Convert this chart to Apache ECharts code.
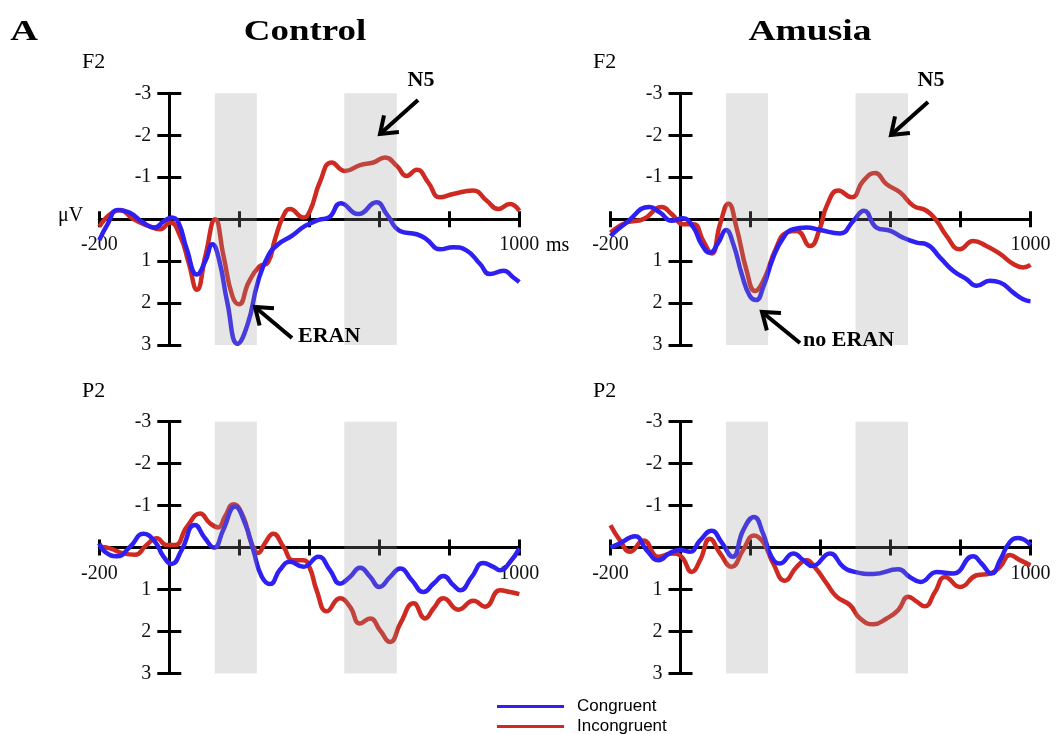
<!DOCTYPE html>
<html><head><meta charset="utf-8">
<script src="https://cdn.jsdelivr.net/npm/echarts@6/dist/echarts.min.js"></script>
<style>html,body{margin:0;padding:0;background:#fff}#c{width:1057px;height:734px}</style>
</head><body><div id="c"></div>
<script>
// ---- data (time in ms, amplitude in µV) ----
const timeRange = [-200, 1000];
const timeStep = 200;
const ampRange = [-3, 3];
const windows = [[130, 250], [500, 650]];
const seriesNames = ['Congruent', 'Incongruent'];
const groupTitles = ['Control', 'Amusia'];
const electrodes = ['F2', 'P2'];

const controlF2Congruent = [[-200,0.5],[-175,0.1],[-148,-0.22],[-114,-0.16],[-75,0.08],[-42,0.2],[-17,0.06],[7,-0.04],[26,0.08],[50,0.72],[79,1.32],[103,1.0],[123,0.6],[142,0.96],[166,2.0],[195,2.97],[224,2.5],[253,1.5],[282,0.88],[311,0.6],[350,0.4],[388,0.16],[427,0.02],[456,-0.04],[490,-0.38],[540,-0.12],[592,-0.4],[621,-0.12],[659,0.28],[707,0.36],[735,0.48],[773,0.72],[811,0.67],[850,0.75],[888,1.07],[916,1.31],[955,1.23],[983,1.39],[1000,1.5]];
const controlF2Incongruent = [[-200,0.18],[-141,-0.22],[-103,0],[-60,0.16],[-27,0.24],[2,0.08],[31,0.4],[55,1.03],[79,1.68],[103,0.88],[131,0.0],[155,0.88],[180,1.83],[199,2.03],[227,1.5],[257,1.13],[282,1.03],[302,0.48],[326,-0.08],[345,-0.24],[383,-0.04],[402,-0.2],[430,-0.88],[464,-1.35],[502,-1.15],[545,-1.29],[583,-1.35],[616,-1.47],[650,-1.27],[678,-1.03],[707,-1.18],[740,-0.87],[773,-0.52],[811,-0.6],[868,-0.68],[907,-0.44],[940,-0.24],[973,-0.36],[1000,-0.2]];
const amusiaF2Congruent = [[-200,0.4],[-154,0.08],[-89,-0.29],[-59,-0.16],[-25,0.04],[6,-0.02],[37,0.2],[60,0.6],[84,0.8],[108,0.56],[130,0.26],[151,0.6],[175,1.31],[198,1.83],[216,1.93],[236,1.63],[265,0.91],[294,0.44],[322,0.24],[360,0.2],[399,0.26],[456,0.34],[494,0.04],[524,-0.2],[560,0.2],[600,0.28],[636,0.44],[675,0.56],[703,0.6],[741,0.91],[779,1.23],[817,1.43],[846,1.59],[884,1.47],[913,1.51],[951,1.75],[979,1.91],[1000,1.96]];
const amusiaF2Incongruent = [[-200,0.32],[-154,0.08],[-106,0],[-54,-0.29],[-25,-0.12],[8,0.12],[37,0.12],[65,0.52],[89,0.82],[113,0.12],[137,-0.37],[160,0.2],[189,1.23],[213,1.71],[241,1.39],[270,0.75],[303,0.32],[332,0.28],[370,0.64],[399,0.2],[418,-0.32],[451,-0.68],[489,-0.52],[522,-0.91],[556,-1.1],[589,-0.83],[627,-0.64],[665,-0.32],[703,-0.2],[732,0.04],[760,0.4],[798,0.72],[836,0.52],[874,0.64],[913,0.83],[951,1.07],[979,1.15],[1000,1.09]];
const controlP2Congruent = [[-200,-0.1],[-184,0.1],[-150,0.21],[-112,-0.02],[-74,-0.33],[-41,-0.14],[-17,0.21],[7,0.39],[35,0.06],[73,-0.54],[102,-0.22],[128,0],[154,-0.42],[188,-0.98],[216,-0.58],[240,0.06],[264,0.69],[288,0.87],[316,0.53],[345,0.34],[383,0.46],[426,0.22],[459,0.54],[488,0.86],[516,0.7],[545,0.48],[574,0.7],[600,0.94],[631,0.7],[660,0.5],[693,0.78],[726,1.06],[755,0.86],[783,0.68],[812,0.9],[831,1.02],[864,0.7],[897,0.37],[926,0.46],[945,0.54],[974,0.34],[1000,0.02]];
const controlP2Incongruent = [[-200,-0.02],[-169,0.02],[-131,0.14],[-98,0.17],[-65,-0.06],[-36,-0.22],[-8,-0.06],[16,-0.06],[50,-0.49],[88,-0.81],[116,-0.58],[140,-0.48],[159,-0.74],[183,-1.03],[211,-0.74],[235,-0.1],[254,0.13],[273,-0.1],[297,-0.33],[326,-0.02],[354,0.3],[383,0.3],[402,0.5],[421,1.02],[450,1.52],[488,1.21],[516,1.41],[545,1.81],[574,1.69],[602,1.97],[631,2.25],[660,1.81],[698,1.33],[731,1.69],[755,1.45],[783,1.21],[826,1.48],[869,1.27],[902,1.41],[945,1.02],[974,1.06],[1000,1.11]];
const amusiaP2Congruent = [[-200,0],[-173,-0.1],[-130,-0.27],[-97,0.06],[-63,0.3],[-30,0.13],[-1,0.06],[27,0.1],[56,-0.17],[89,-0.4],[117,-0.13],[149,0.22],[179,-0.41],[210,-0.73],[236,-0.33],[260,0.22],[284,0.38],[322,0.14],[351,0.3],[377,0.44],[427,0.14],[465,0.46],[498,0.58],[551,0.63],[622,0.52],[655,0.7],[686,0.82],[732,0.58],[779,0.62],[836,0.21],[860,0.38],[889,0.62],[913,0.3],[941,-0.13],[965,-0.23],[1000,-0.06]];
const amusiaP2Incongruent = [[-200,-0.53],[-173,-0.17],[-144,0.1],[-106,-0.17],[-63,0.22],[-25,0.14],[3,0.22],[32,0.58],[56,0.3],[84,-0.21],[113,0.14],[146,0.46],[179,0.06],[210,-0.29],[236,-0.13],[265,0.38],[298,0.79],[332,0.46],[360,0.3],[385,0.48],[418,0.86],[446,1.17],[484,1.37],[513,1.69],[551,1.83],[589,1.69],[622,1.49],[651,1.17],[675,1.29],[698,1.4],[727,1.06],[756,0.7],[799,0.94],[846,0.66],[884,0.62],[913,0.46],[941,0.18],[970,0.3],[1000,0.42]];

// ---- layout & style ----
const BLUE = '#2e1ff2', RED = '#cf2a22';
const SERIF = 'Liberation Serif';
const W = 420, H = 251.7;
const panels = [
  {left: 99.3, top: 93.3, con: controlF2Congruent, inc: controlF2Incongruent, label: electrodes[0]},
  {left: 610.5, top: 93.3, con: amusiaF2Congruent, inc: amusiaF2Incongruent, label: electrodes[0]},
  {left: 99.3, top: 421.7, con: controlP2Congruent, inc: controlP2Incongruent, label: electrodes[1]},
  {left: 610.5, top: 421.7, con: amusiaP2Congruent, inc: amusiaP2Incongruent, label: electrodes[1]}
];
// axes cross at t = 0 ms and 0 µV: shift them inside the grid with a negative offset
const yAxisOffset = -(0 - timeRange[0]) / (timeRange[1] - timeRange[0]) * W;
const xAxisOffset = -(ampRange[1] - 0) / (ampRange[1] - ampRange[0]) * H;

const grid = [], xAxis = [], yAxis = [], series = [];
const n = panels.length;
for (let k = 0; k < 2 * n; k++) {
  const p = panels[k % n];
  grid.push({left: p.left, top: p.top, width: W, height: H});
}
for (let k = 0; k < 2 * n; k++) {
  const overlay = k >= n;
  xAxis.push({
    type: 'value', gridIndex: k, min: timeRange[0], max: timeRange[1], interval: timeStep,
    position: 'bottom', offset: xAxisOffset,
    axisLine: {show: !overlay, onZero: false, lineStyle: {color: '#000', width: 3}},
    axisTick: {show: true, inside: overlay, length: 8, lineStyle: {color: '#000', width: 3}},
    axisLabel: {show: !overlay, margin: 16, fontFamily: SERIF, fontSize: 20, color: '#111',
      formatter: v => (v === timeRange[0] || v === timeRange[1]) ? String(v) : ''},
    splitLine: {show: false}
  });
  yAxis.push({
    type: 'value', gridIndex: k, min: ampRange[0], max: ampRange[1], interval: 1, inverse: true,
    position: 'left', offset: yAxisOffset,
    axisLine: {show: !overlay, onZero: false, lineStyle: {color: '#000', width: 3}},
    axisTick: {show: true, inside: overlay, length: 12, lineStyle: {color: '#000', width: 3}},
    axisLabel: {show: !overlay, margin: 18, fontFamily: SERIF, fontSize: 20, color: '#111',
      formatter: v => v === 0 ? '' : String(v)},
    splitLine: {show: false}
  });
}
panels.forEach((p, i) => {
  series.push({
    type: 'line', name: seriesNames[1], xAxisIndex: i, yAxisIndex: i, data: p.inc,
    smooth: 0.5, symbol: 'none', z: 3,
    lineStyle: {color: RED, width: 4.5}, itemStyle: {color: RED}
  });
  series.push({
    type: 'line', name: seriesNames[0], xAxisIndex: i, yAxisIndex: i, data: p.con,
    smooth: 0.5, symbol: 'none', z: 4,
    lineStyle: {color: BLUE, width: 4.5}, itemStyle: {color: BLUE},
    markArea: {silent: true, z: 10, itemStyle: {color: 'rgba(150,150,150,0.25)'},
      data: windows.map(w => [{xAxis: w[0], yAxis: ampRange[0]}, {xAxis: w[1], yAxis: ampRange[1]}])}
  });
});

function txt(x, y, text, font, align, extra) {
  return Object.assign({type: 'text', x: x, y: y, silent: true, z: 20,
    style: {text: text, font: font, fill: '#000', align: align || 'left', verticalAlign: 'middle',
      textAlign: align || 'left', textVerticalAlign: 'middle'}}, extra || {});
}
function arrow(tail, head) {
  const dx = tail[0] - head[0], dy = tail[1] - head[1];
  const len = Math.hypot(dx, dy), ux = dx / len, uy = dy / len;
  const wl = 19, a = 36 * Math.PI / 180;
  const w1 = [head[0] + wl * (ux * Math.cos(a) - uy * Math.sin(a)), head[1] + wl * (ux * Math.sin(a) + uy * Math.cos(a))];
  const w2 = [head[0] + wl * (ux * Math.cos(-a) - uy * Math.sin(-a)), head[1] + wl * (ux * Math.sin(-a) + uy * Math.cos(-a))];
  return [
    {type: 'polyline', silent: true, z: 20, shape: {points: [tail, head]}, style: {stroke: '#000', lineWidth: 4, fill: null}},
    {type: 'polyline', silent: true, z: 20, shape: {points: [w1, head, w2]}, style: {stroke: '#000', lineWidth: 4, fill: null, lineJoin: 'miter'}}
  ];
}

const titleFont = 'bold 30px "Liberation Serif"';
const annFont = 'bold 22px "Liberation Serif"';
const labFont = '22px "Liberation Serif"';
const graphic = [
  txt(24, 32, 'A', titleFont, 'center', {scaleX: 1.28}),
  txt(305, 32, groupTitles[0], titleFont, 'center', {scaleX: 1.23}),
  txt(810, 32, groupTitles[1], titleFont, 'center', {scaleX: 1.25}),
  txt(82, 62, panels[0].label, labFont),
  txt(593, 62, panels[1].label, labFont),
  txt(82, 391, panels[2].label, labFont),
  txt(593, 391, panels[3].label, labFont),
  txt(58, 216, 'μV', '20px "Liberation Serif"'),
  txt(546, 246, 'ms', '20px "Liberation Serif"'),
  txt(421, 80, 'N5', annFont, 'center'),
  txt(931, 80, 'N5', annFont, 'center'),
  txt(298, 336, 'ERAN', annFont),
  txt(803, 340, 'no ERAN', annFont)
].concat(arrow([418, 100], [380, 134]), arrow([928, 102], [891, 135]),
         arrow([292, 338], [255, 307]), arrow([800, 343], [762, 312]));

const chart = echarts.init(document.getElementById('c'));
chart.setOption({
  animation: false,
  backgroundColor: '#fff',
  grid: grid, xAxis: xAxis, yAxis: yAxis, series: series,
  legend: {
    data: seriesNames, orient: 'vertical', left: 497, top: 698, width: 250, height: 60, padding: 0,
    icon: 'rect', itemWidth: 67, itemHeight: 3, itemGap: 3, selectedMode: false,
    textStyle: {fontFamily: 'Liberation Sans', fontSize: 17, lineHeight: 17, color: '#000', padding: [0, 0, 0, 8]}
  },
  graphic: graphic
});
</script></body></html>
